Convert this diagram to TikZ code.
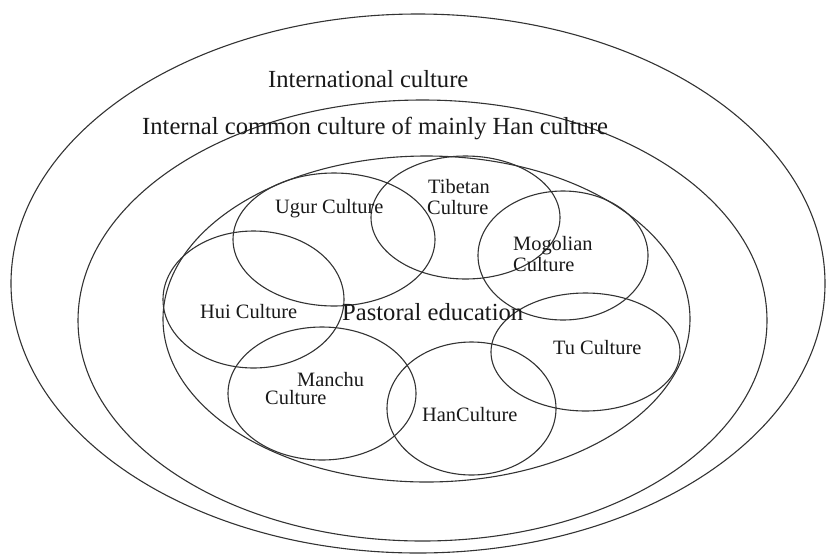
\documentclass[tikz,border=0pt]{standalone}
\usepackage{fontspec}
\setmainfont{Liberation Serif}
\usetikzlibrary{shapes.geometric}
\begin{document}
\begin{tikzpicture}[x=1pt,y=-1pt,
  ring/.style={draw=black!80,line width=1.1pt,ellipse,inner sep=0pt,fill=none},
  bigtxt/.style={anchor=west,inner sep=0pt,font=\fontsize{24.6}{28}\selectfont,text=black!90},
  smalltxt/.style={anchor=west,inner sep=0pt,font=\fontsize{20.4}{21}\selectfont,text=black!90}]
\useasboundingbox (0,0) rectangle (827,555);
% outer rings
\node[ring,minimum width=814pt,minimum height=539pt] (intl) at (418,283.5) {};
\node[ring,minimum width=689pt,minimum height=441pt] (internal) at (422.5,320.5) {};
\node[ring,minimum width=527pt,minimum height=326pt] (pastoral) at (426.5,319) {};
% culture circles
\node[ring,minimum width=202pt,minimum height=133pt] (ugur) at (334,239.5) {};
\node[ring,minimum width=189pt,minimum height=123pt] (tibet) at (465.5,217.5) {};
\node[ring,minimum width=170pt,minimum height=129pt] (mogol) at (563,255.5) {};
\node[ring,minimum width=181pt,minimum height=137pt] (hui) at (253.5,299.5) {};
\node[ring,minimum width=189pt,minimum height=118pt] (tu) at (585.5,352) {};
\node[ring,minimum width=188pt,minimum height=133pt] (manchu) at (322,393.5) {};
\node[ring,minimum width=169pt,minimum height=133pt] (han) at (471.5,408.5) {};
% labels
\node[bigtxt] (tIntl) at (268,79) {International culture};
\node[bigtxt] (tInternal) at (142,128) {Internal common culture of mainly Han culture};
\node[bigtxt] (tPastoral) at (342,312) {Pastoral education};
\node[smalltxt] (tUgur) at (275,209) {Ugur Culture};
\node[smalltxt] (tTibetA) at (428,187) {Tibetan};
\node[smalltxt] (tTibetB) at (427,208) {Culture};
\node[smalltxt] (tMogolA) at (513,246) {Mogolian};
\node[smalltxt] (tMogolB) at (513,265) {Culture};
\node[smalltxt] (tHui) at (200,312) {Hui Culture};
\node[smalltxt] (tTu) at (553,348) {Tu Culture};
\node[smalltxt] (tManchuA) at (297,380) {Manchu};
\node[smalltxt] (tManchuB) at (265,398) {Culture};
\node[smalltxt] (tHan) at (422,415) {HanCulture};
\end{tikzpicture}
\end{document}
